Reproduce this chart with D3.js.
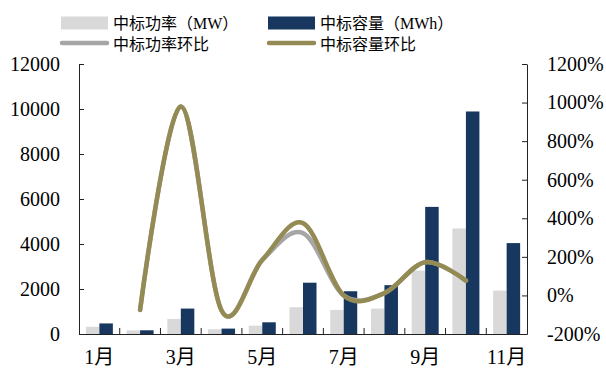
<!DOCTYPE html>
<html>
<head>
<meta charset="utf-8">
<script src="https://cdn.jsdelivr.net/npm/d3@7"></script>
<style>
    body { margin: 0; background: #fff; }
    text { font-family: "Liberation Serif", "Noto Sans CJK SC", serif; fill: #000; }
</style>
</head>
<body>
<div id="chart"></div>
<script>
// months on the x axis, only odd ones get a label
let months = ["1月", "2月", "3月", "4月", "5月", "6月", "7月", "8月", "9月", "10月", "11月"];
let shownMonths = ["1月", "3月", "5月", "7月", "9月", "11月"];

// bars, left axis
let power = [320, 160, 670, 210, 370, 1190, 1070, 1130, 2820, 4690, 1930];
let capacity = [470, 165, 1130, 240, 520, 2280, 1900, 2170, 5650, 9890, 4040];

// month-on-month change, right axis (%)
let powerRatio = [null, -75, 980, -78, 184, 323, 0, 12, 172, 77, null];
let capacityRatio = [null, -75, 980, -78, 184, 375, 0, 12, 172, 77, null];

let leftTicks = [0, 2000, 4000, 6000, 8000, 10000, 12000];
let rightTicks = [-200, 0, 200, 400, 600, 800, 1000, 1200];

let legendItems = [
    {name: "中标功率（MW）", type: "bar", color: "#d9d9d9"},
    {name: "中标容量（MWh）", type: "bar", color: "#17375e"},
    {name: "中标功率环比", type: "line", color: "#a6a6a6"},
    {name: "中标容量环比", type: "line", color: "#948a54"}
];

let width = 606, height = 370;
let margin = {top: 64, right: 79, bottom: 36, left: 79};

let svg = d3.select("#chart").append("svg")
    .attr("width", width)
    .attr("height", height);

let xScale = d3.scaleBand()
    .domain(months)
    .range([margin.left, width - margin.right]);

let yLeft = d3.scaleLinear()
    .domain([0, 12000])
    .range([height - margin.bottom, margin.top]);

let yRight = d3.scaleLinear()
    .domain([-200, 1200])
    .range([height - margin.bottom, margin.top]);

let bw = xScale.bandwidth();
let barW = 13.5;

// bars
svg.append("g").selectAll("rect")
    .data(power)
    .join("rect")
    .attr("x", (d, i) => xScale(months[i]) + bw / 2 - barW)
    .attr("y", d => yLeft(d))
    .attr("width", barW)
    .attr("height", d => yLeft(0) - yLeft(d))
    .attr("fill", "#d9d9d9");

svg.append("g").selectAll("rect")
    .data(capacity)
    .join("rect")
    .attr("x", (d, i) => xScale(months[i]) + bw / 2)
    .attr("y", d => yLeft(d))
    .attr("width", barW)
    .attr("height", d => yLeft(0) - yLeft(d))
    .attr("fill", "#17375e");

// axes
let axisColor = "#222";

let leftAxis = svg.append("g")
    .attr("transform", "translate(" + margin.left + ",0)")
    .call(d3.axisLeft(yLeft).tickValues(leftTicks).tickFormat(d3.format("d"))
        .tickSizeInner(-5).tickSizeOuter(0).tickPadding(19));

let rightAxis = svg.append("g")
    .attr("transform", "translate(" + (width - margin.right) + ",0)")
    .call(d3.axisRight(yRight).tickValues(rightTicks).tickFormat(d => d + "%")
        .tickSizeInner(-5).tickSizeOuter(0).tickPadding(20));

let bottomAxis = svg.append("g")
    .attr("transform", "translate(0," + (height - margin.bottom) + ")")
    .call(d3.axisBottom(xScale).tickValues(shownMonths).tickSize(0).tickPadding(16));

// ticks between months, pointing up
bottomAxis.selectAll(".sep")
    .data(months.slice(1))
    .join("line")
    .attr("class", "sep")
    .attr("x1", d => xScale(d))
    .attr("x2", d => xScale(d))
    .attr("y1", 0)
    .attr("y2", -6)
    .attr("stroke", axisColor);

[leftAxis, rightAxis, bottomAxis].forEach(function(a) {
    a.selectAll("text").style("font-size", "20px").attr("fill", "#000");
    a.selectAll("line, .domain").attr("stroke", axisColor);
});
bottomAxis.selectAll(".tick text").attr("dy", "0.71em");

// ratio lines
function ratioLine(values) {
    return d3.line()
        .defined(d => d !== null)
        .x((d, i) => xScale(months[i]) + bw / 2)
        .y(d => yRight(d))
        .curve(d3.curveCardinal.tension(0))(values);
}

svg.append("path")
    .attr("d", ratioLine(powerRatio))
    .attr("fill", "none")
    .attr("stroke", "#a6a6a6")
    .attr("stroke-width", 4.5)
    .attr("stroke-linecap", "round");

svg.append("path")
    .attr("d", ratioLine(capacityRatio))
    .attr("fill", "none")
    .attr("stroke", "#948a54")
    .attr("stroke-width", 4.5)
    .attr("stroke-linecap", "round");

// legend, two rows of two
let legend = svg.append("g");
let legendX = [61, 268];
let legendY = [23, 44];

legendItems.forEach(function(item, i) {
    let lx = legendX[i % 2];
    let ly = legendY[Math.floor(i / 2)];
    if (item.type === "bar") {
        legend.append("rect")
            .attr("x", lx)
            .attr("y", ly - 6.5)
            .attr("width", 47)
            .attr("height", 13)
            .attr("fill", item.color);
    } else {
        legend.append("line")
            .attr("x1", lx + 1)
            .attr("x2", lx + 46)
            .attr("y1", ly - 1)
            .attr("y2", ly - 1)
            .attr("stroke", item.color)
            .attr("stroke-width", 4.5)
            .attr("stroke-linecap", "round");
    }
    legend.append("text")
        .attr("x", lx + 52)
        .attr("y", ly)
        .attr("dy", "0.35em")
        .style("font-size", "16px")
        .text(item.name);
});
</script>
</body>
</html>
